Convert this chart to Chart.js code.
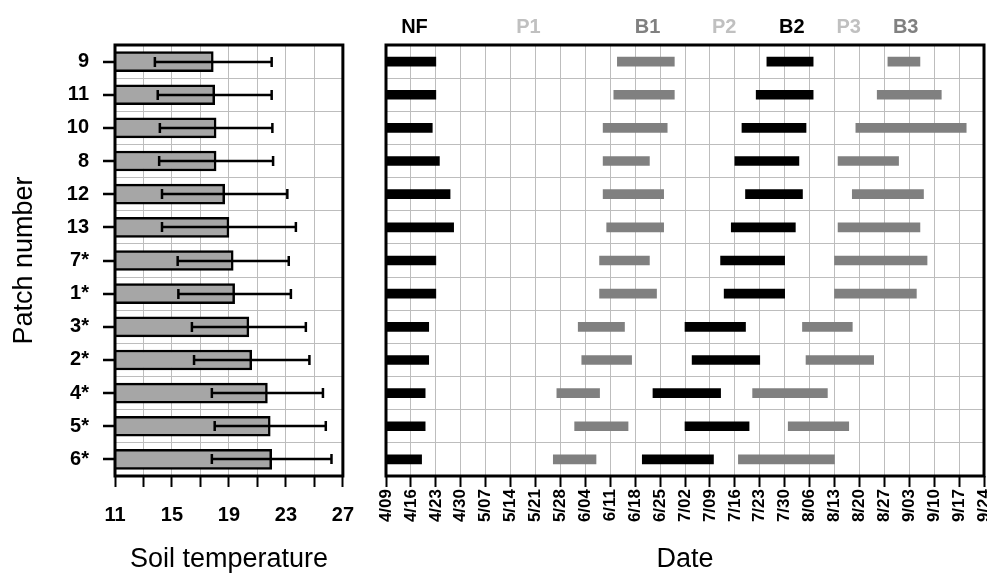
<!DOCTYPE html>
<html>
<head>
<meta charset="utf-8">
<script src="https://cdn.jsdelivr.net/npm/chart.js@4.4.0/dist/chart.umd.min.js"></script>
<style>
  body { margin: 0; background: #fff; }
  #wrap { position: relative; width: 987px; height: 576px; }
  #left { position: absolute; left: 0; top: 0; width: 370px; height: 576px; }
  #right { position: absolute; left: 370px; top: 0; width: 617px; height: 576px; }
</style>
</head>
<body>
<div id="wrap">
  <div id="left"><canvas id="tempChart"></canvas></div>
  <div id="right"><canvas id="dateChart"></canvas></div>
</div>
<script>
// patches, top to bottom
var patches = ['9', '11', '10', '8', '12', '13', '7*', '1*', '3*', '2*', '4*', '5*', '6*'];

// soil temperature, mean and sd
var soilTempMean = [17.9, 18.0, 18.1, 18.1, 18.7, 19.0, 19.3, 19.4, 20.4, 20.6, 21.7, 21.9, 22.0];
var soilTempSd = [4.1, 4.0, 3.95, 4.0, 4.4, 4.7, 3.9, 3.95, 4.0, 4.05, 3.9, 3.9, 4.2];
var tempTicks = [11, 15, 19, 23, 27];

// phase periods (month/day)
var nfStart = ['4/09', '4/09', '4/09', '4/09', '4/09', '4/09', '4/09', '4/09', '4/09', '4/09', '4/09', '4/09', '4/09'];
var nfEnd = ['4/23', '4/23', '4/22', '4/24', '4/27', '4/28', '4/23', '4/23', '4/21', '4/21', '4/20', '4/20', '4/19'];
var b1Start = ['6/13', '6/12', '6/09', '6/09', '6/09', '6/10', '6/08', '6/08', '6/02', '6/03', '5/27', '6/01', '5/26'];
var b1End = ['6/29', '6/29', '6/27', '6/22', '6/26', '6/26', '6/22', '6/24', '6/15', '6/17', '6/08', '6/16', '6/07'];
var b2Start = ['7/25', '7/22', '7/18', '7/16', '7/19', '7/15', '7/12', '7/13', '7/02', '7/04', '6/23', '7/02', '6/20'];
var b2End = ['8/07', '8/07', '8/05', '8/03', '8/04', '8/02', '7/30', '7/30', '7/19', '7/23', '7/12', '7/20', '7/10'];
var b3Start = ['8/28', '8/25', '8/19', '8/14', '8/18', '8/14', '8/13', '8/13', '8/04', '8/05', '7/21', '7/31', '7/17'];
var b3End = ['9/06', '9/12', '9/19', '8/31', '9/07', '9/06', '9/08', '9/05', '8/18', '8/24', '8/11', '8/17', '8/13'];

var dateFirst = '4/09';
var dateLast = '9/24';
var phases = ['NF', 'P1', 'B1', 'P2', 'B2', 'P3', 'B3'];

// helpers
var FONT = '"Liberation Sans", Arial, sans-serif';
Chart.defaults.font.family = FONT;
Chart.defaults.color = '#000';

function dayOf(s) {
    var p = s.split('/').map(Number);
    var f = dateFirst.split('/').map(Number);
    return (Date.UTC(2013, p[0] - 1, p[1]) - Date.UTC(2013, f[0] - 1, f[1])) / 86400000;
}
function dateLabel(v) {
    var f = dateFirst.split('/').map(Number);
    var d = new Date(Date.UTC(2013, f[0] - 1, f[1] + v));
    return (d.getUTCMonth() + 1) + '/' + String(d.getUTCDate()).padStart(2, '0');
}
function spans(starts, ends) {
    return starts.map(function(s, i) { return [dayOf(s), dayOf(ends[i])]; });
}

var frame = {
    id: 'frame',
    afterDraw: function(chart) {
        var a = chart.chartArea, ctx = chart.ctx;
        ctx.save();
        ctx.strokeStyle = '#000';
        ctx.lineWidth = 3;
        ctx.strokeRect(a.left, a.top, a.right - a.left, a.bottom - a.top);
        ctx.restore();
    }
};

var errorBars = {
    id: 'errorBars',
    afterDatasetsDraw: function(chart) {
        var ctx = chart.ctx, x = chart.scales.x, y = chart.scales.y;
        var left = chart.chartArea.left;
        ctx.save();
        ctx.strokeStyle = '#000';
        ctx.lineWidth = 2.5;
        ctx.beginPath();
        patches.forEach(function(p, i) {
            var yc = Math.round(y.getPixelForValue(i));
            var lo = x.getPixelForValue(soilTempMean[i] - soilTempSd[i]);
            var hi = x.getPixelForValue(soilTempMean[i] + soilTempSd[i]);
            ctx.moveTo(lo, yc); ctx.lineTo(hi, yc);
            ctx.moveTo(lo, yc - 5); ctx.lineTo(lo, yc + 5);
            ctx.moveTo(hi, yc - 5); ctx.lineTo(hi, yc + 5);
            // tick mark on the category axis
            ctx.moveTo(left - 12, yc); ctx.lineTo(left, yc);
        });
        ctx.stroke();
        ctx.restore();
    }
};

var phaseTitles = {
    id: 'phaseTitles',
    afterDraw: function(chart) {
        var ctx = chart.ctx, x = chart.scales.x;
        var at = [8, 40, 73.5, 95, 114, 130, 146];
        var colors = ['#000', '#c0c0c0', '#808080', '#c0c0c0', '#000', '#c0c0c0', '#808080'];
        ctx.save();
        ctx.font = 'bold 20px ' + FONT;
        ctx.textAlign = 'center';
        ctx.textBaseline = 'middle';
        phases.forEach(function(p, i) {
            ctx.fillStyle = colors[i];
            ctx.fillText(p, x.getPixelForValue(at[i]), chart.chartArea.top - 18);
        });
        ctx.restore();
    }
};

// left: soil temperature
new Chart(document.getElementById('tempChart'), {
    type: 'bar',
    data: {
        labels: patches,
        datasets: [{
            data: soilTempMean,
            base: tempTicks[0],
            backgroundColor: '#a6a6a6',
            borderColor: '#000',
            borderWidth: 2.5,
            barThickness: 20
        }]
    },
    options: {
        indexAxis: 'y',
        responsive: true,
        maintainAspectRatio: false,
        animation: false,
        layout: { padding: { top: 45, right: 22, left: 0, bottom: 0 } },
        plugins: { legend: { display: false }, tooltip: { enabled: false } },
        scales: {
            x: {
                min: tempTicks[0],
                max: tempTicks[tempTicks.length - 1],
                ticks: {
                    stepSize: 2,
                    autoSkip: false,
                    maxRotation: 0,
                    padding: 16,
                    font: { size: 20, weight: 'bold' },
                    callback: function(v) { return tempTicks.indexOf(v) >= 0 ? v : ''; }
                },
                grid: { color: '#bdbdbd', tickColor: '#000', tickLength: 11, tickWidth: 2 },
                border: { display: false },
                title: { display: true, text: 'Soil temperature', font: { size: 27 }, padding: { top: 0, bottom: 0 } },
                afterFit: function(s) { s.height = 100; }
            },
            y: {
                grid: { offset: true, color: '#bdbdbd', drawTicks: false },
                border: { display: false },
                ticks: { padding: 26, font: { size: 20, weight: 'bold' } },
                title: { display: true, text: 'Patch number', font: { size: 27 }, padding: { top: 8, bottom: 0 } },
                afterFit: function(s) { s.width = 115; }
            }
        }
    },
    plugins: [errorBars, frame]
});

// right: phase dates
new Chart(document.getElementById('dateChart'), {
    type: 'bar',
    data: {
        labels: patches,
        datasets: [
            { label: 'NF', data: spans(nfStart, nfEnd), backgroundColor: '#000' },
            { label: 'B1', data: spans(b1Start, b1End), backgroundColor: '#808080' },
            { label: 'B2', data: spans(b2Start, b2End), backgroundColor: '#000' },
            { label: 'B3', data: spans(b3Start, b3End), backgroundColor: '#808080' }
        ]
    },
    options: {
        indexAxis: 'y',
        responsive: true,
        maintainAspectRatio: false,
        animation: false,
        grouped: false,
        barThickness: 9,
        layout: { padding: { top: 45, right: 3, left: 0, bottom: 0 } },
        plugins: { legend: { display: false }, tooltip: { enabled: false } },
        scales: {
            x: {
                type: 'linear',
                min: dayOf(dateFirst),
                max: dayOf(dateLast),
                ticks: {
                    stepSize: 7,
                    autoSkip: false,
                    minRotation: 90,
                    maxRotation: 90,
                    padding: 2,
                    font: { size: 17, weight: 'bold' },
                    callback: function(v) { return dateLabel(v); }
                },
                grid: { color: '#bdbdbd', tickColor: '#000', tickLength: 11, tickWidth: 2 },
                border: { display: false },
                title: { display: true, text: 'Date', font: { size: 27 }, padding: { top: 0, bottom: 0 } },
                afterFit: function(s) { s.height = 100; s.paddingLeft = 0; s.paddingRight = 0; }
            },
            y: {
                grid: { offset: true, color: '#bdbdbd', drawTicks: false },
                border: { display: false },
                ticks: { display: false },
                afterFit: function(s) { s.width = 16; }
            }
        }
    },
    plugins: [phaseTitles, frame]
});
</script>
</body>
</html>
